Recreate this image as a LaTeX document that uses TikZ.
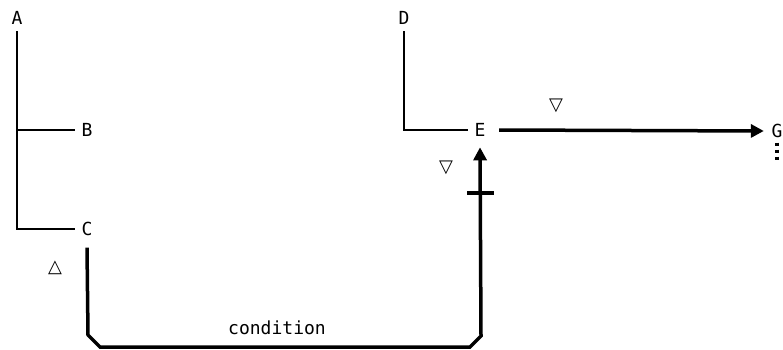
\documentclass[tikz,border=0pt]{standalone}
\usepackage{fontspec}
\setmonofont{DejaVu Sans Mono}
\newfontfamily\symfont{DejaVu Sans}
\usetikzlibrary{arrows.meta}

\tikzset{every picture/.style={line width=1.5pt}}
\tikzset{
  lbl/.style={inner sep=1pt, font=\ttfamily\fontsize{18}{18}\selectfont},
  trisym/.style={inner sep=0pt, font=\symfont\fontsize{18}{18}\selectfont},
  tree/.style={line width=1.5pt},
  flow/.style={line width=3.5pt, -{Triangle[length=13pt,width=13pt]}},
}

\begin{document}
\begin{tikzpicture}[x=1pt,y=1pt,yscale=-1,xscale=1]
\useasboundingbox (0,0) rectangle (783,350);

% Text Node
\node [lbl] (A) at (17,18) {A};
\node [lbl] (B) at (87,130) {B};
\node [lbl] (C) at (87,229) {C};
\node [lbl] (D) at (404,18) {D};
\node [lbl] (E) at (480,130) {E};
\node [lbl] (G) at (777,131) {G};
\node [lbl] (cond) at (277,328) {condition};
\node [trisym] (up) at (55,268) {△};
\node [trisym] (dnE) at (446,168) {▽};
\node [trisym] (dnG) at (556,106) {▽};

%Straight Lines
\draw [tree] ([yshift=5pt]A.south) -- (A.south |- C) -- ([xshift=-5pt]C.west);
\draw [tree] (A.south |- B) -- ([xshift=-5pt]B.west);
\draw [tree] ([yshift=5pt]D.south) -- (D.south |- E) -- ([xshift=-5pt]E.west);

%Corner points
\coordinate (cl) at (88,347);
\coordinate (cr) at (481,347);
\coordinate (bar) at (481,193);

%Thick Lines
\draw [flow] ([yshift=10pt]C.south) -- ([yshift=-12pt]cl) -- ([xshift=12pt]cl)
  -- ([xshift=-11pt]cr) -- ([yshift=-11pt]cr) -- ([yshift=9pt]E.south);
\draw [line width=3.5pt] ([xshift=-14pt]bar) -- ([xshift=13pt]bar);
\draw [flow] ([xshift=12pt]E.east) -- ([xshift=-6pt]G.west);
\draw [line width=3.5pt, dash pattern={on 3pt off 4pt}] ([yshift=3pt]G.south) -- ++(0,20);

\end{tikzpicture}
\end{document}
